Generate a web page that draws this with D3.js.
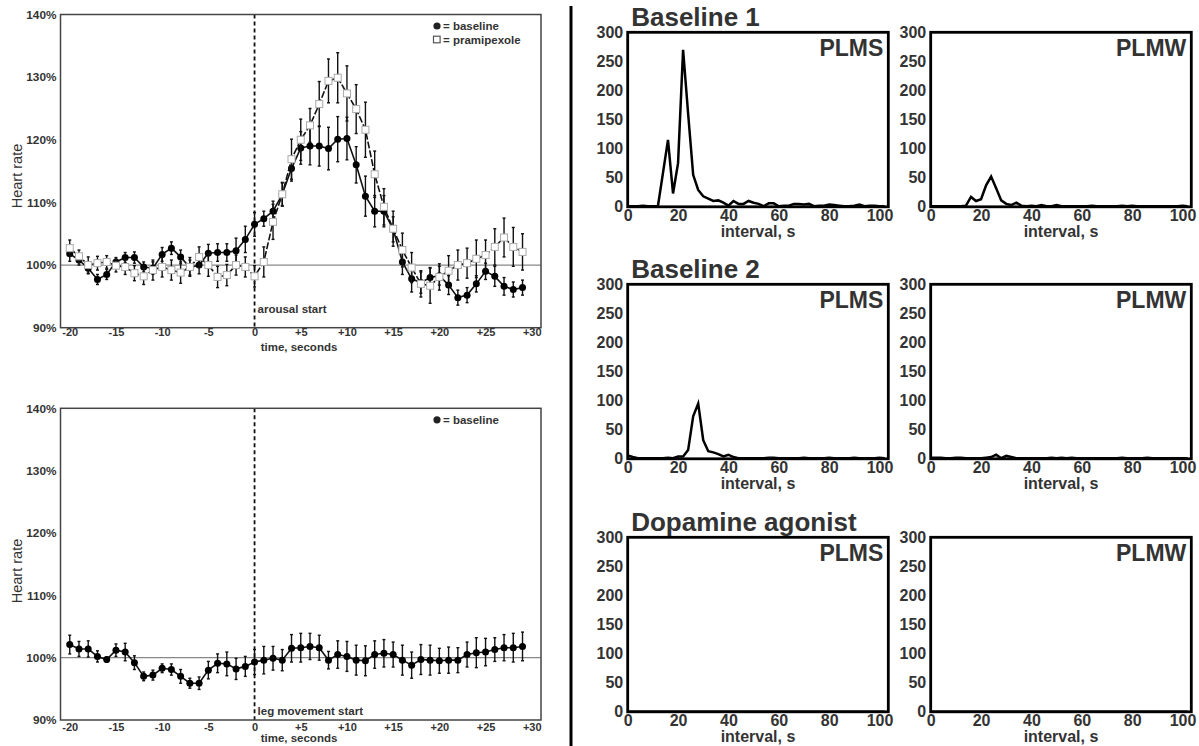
<!DOCTYPE html>
<html>
<head>
<meta charset="utf-8">
<script src="https://cdn.jsdelivr.net/npm/d3@7"></script>
<style>
  body { margin: 0; background: #fff; }
  svg { display: block; }
</style>
</head>
<body>
<svg id="chart" width="1199" height="746"></svg>
<script>
// ---- heart rate around events (percent of resting rate) ----
var seconds = [-20,-19,-18,-17,-16,-15,-14,-13,-12,-11,-10,-9,-8,-7,-6,-5,-4,-3,-2,-1,
  0,1,2,3,4,5,6,7,8,9,10,11,12,13,14,15,16,17,18,19,20,21,22,23,24,25,26,27,28,29];

var arousalBaseline = [101.8,100.8,99.5,97.7,98.5,100.5,101.2,101.2,99.7,99.5,
  101.7,102.7,101.3,99.6,100.0,101.9,102.0,102.0,102.3,104.1,
  106.5,107.4,108.6,111.3,115.4,118.7,119.0,119.0,118.6,120.1,
  120.2,116.0,111.0,108.6,108.6,105.7,100.5,97.8,97.2,98.0,
  98.3,96.8,94.8,95.2,97.0,99.0,98.2,96.6,96.1,96.4];
var arousalBaselineErr = [1.2,0.8,0.9,0.8,0.8,0.7,0.8,0.9,0.8,1.0,
  1.1,1.0,1.1,1.2,1.4,1.4,1.4,1.4,2.0,2.1,
  1.9,1.2,1.6,1.8,2.0,2.6,3.0,3.2,3.4,3.6,
  3.4,2.9,3.2,2.5,2.5,2.0,2.0,2.1,1.7,1.6,
  1.5,1.5,1.2,1.2,1.3,1.3,1.6,1.4,1.2,1.2];

var arousalPramipexole = [102.7,101.4,100.0,100.3,100.5,99.9,99.7,98.7,98.2,99.2,
  99.7,99.2,98.8,99.7,101.3,100.0,98.1,98.4,100.0,99.7,
  98.2,100.5,106.9,111.3,116.9,120.0,122.3,125.7,129.4,129.9,
  127.4,124.9,121.6,114.5,109.3,105.8,102.4,99.6,97.0,96.7,
  98.1,99.1,100.0,100.3,101.0,101.6,102.9,104.4,102.9,102.1];
var arousalPramipexoleErr = [1.3,1.0,1.3,1.1,1.0,1.0,1.2,1.2,1.3,1.6,
  1.6,1.6,1.7,1.5,1.6,1.8,1.7,1.7,1.6,1.6,
  1.7,2.4,2.8,1.9,3.2,3.3,2.7,3.6,3.5,4.0,
  4.4,3.9,4.4,3.7,2.9,2.8,2.7,2.4,2.1,2.8,
  2.1,2.4,2.4,2.4,3.0,2.4,2.9,3.1,3.1,2.9];

var legBaseline = [102.1,101.4,101.4,100.2,99.7,101.2,100.9,99.2,97.0,97.2,
  98.3,98.1,97.0,95.9,95.9,98.0,99.1,99.0,98.2,98.6,
  99.3,99.6,99.9,99.6,101.5,101.6,101.8,101.6,99.6,100.5,
  100.2,99.6,99.5,100.5,100.7,100.5,99.6,98.8,99.7,99.6,
  99.5,99.6,99.6,100.5,100.8,100.9,101.3,101.6,101.6,101.8];
var legBaselineErr = [1.5,1.2,1.3,0.9,0.4,1.0,1.4,1.1,0.7,0.8,
  0.7,0.9,1.1,0.8,1.0,1.4,1.5,1.9,1.7,1.6,
  2.0,2.2,1.9,1.7,2.2,2.3,2.1,2.0,1.4,2.2,
  2.4,2.4,2.4,2.2,2.2,2.0,2.4,2.1,2.4,2.4,
  2.0,2.1,2.0,2.0,2.4,2.2,1.9,2.1,2.3,2.3];

var timeTicks = [-20,-15,-10,-5,0,5,10,15,20,25,30];
var timeTickLabels = ["-20","-15","-10","-5","0","+5","+10","+15","+20","+25","+30"];
var hrTicks = [90,100,110,120,130,140];

// ---- inter-movement interval histograms ----
var intervalBins = [0,2,4,6,8,10,12,14,16,18,20,22,24,26,28,30,32,34,36,38,40,42,44,46,48,50,
  52,54,56,58,60,62,64,66,68,70,72,74,76,78,80,82,84,86,88,90,92,94,96,98,100,102];

var base1PLMS = [1,1,1,2,1,1,1,58,115,23,75,270,160,55,29,18,14,10,11,7,2,10,5,5,10,7,
  5,1,6,6,1,2,2,5,5,4,5,1,2,2,4,3,2,1,1,2,4,1,2,2,1,1];
var base1PLMW = [1,1,1,1,1,1,1,2,17,10,13,37,52,32,11,5,3,7,2,1,2,1,3,1,1,3,
  1,1,1,1,1,1,2,1,1,1,1,1,2,1,2,1,1,1,1,1,1,1,1,1,2,1];
var base2PLMS = [6,3,1,1,1,1,1,1,2,1,4,4,15,73,95,32,13,11,8,4,7,3,1,1,1,1,
  1,1,2,2,1,1,1,1,1,2,1,1,1,1,2,1,1,1,1,2,1,1,1,1,2,1];
var base2PLMW = [2,2,2,1,1,2,2,1,1,1,1,2,3,7,1,5,3,1,1,1,1,1,1,1,2,1,
  2,1,2,1,1,1,1,1,1,1,1,1,2,1,1,1,1,2,1,1,1,1,1,1,1,1];
var agonistPLMS = [0,0,0,0,0,0,0,0,0,0,0,0,0,0,0,0,0,0,0,0,0,0,0,0,0,0,
  0,0,0,0,0,0,0,0,0,0,0,0,0,0,0,0,0,0,0,0,0,0,0,0,0,0];
var agonistPLMW = [0,0,0,0,0,0,0,0,0,0,0,0,0,0,0,0,0,0,0,0,0,0,0,0,0,0,
  0,0,0,0,0,0,0,0,0,0,0,0,0,0,0,0,0,0,0,0,0,0,0,0,0,0];

var intervalTicks = [0,20,40,60,80,100];
var countTicks = [0,50,100,150,200,250,300];
var histRows = ["Baseline 1", "Baseline 2", "Dopamine agonist"];
var histCols = ["PLMS", "PLMW"];
var histValues = [[base1PLMS, base1PLMW], [base2PLMS, base2PLMW], [agonistPLMS, agonistPLMW]];

var FONT = '"Liberation Sans", Arial, Helvetica, sans-serif';
var INK = "#333";
var svg = d3.select("#chart");

function heartPanel(opt) {
  var x = d3.scaleLinear().domain([-21, 31]).range([60.5, 541]);
  var y = d3.scaleLinear().domain([90, 140]).range([opt.bottom, opt.top]);
  var g = svg.append("g");

  g.append("line")
      .attr("x1", x(-21)).attr("x2", x(31))
      .attr("y1", y(100)).attr("y2", y(100))
      .attr("stroke", "#888").attr("stroke-width", 1.2);
  g.append("line")
      .attr("x1", x(0)).attr("x2", x(0))
      .attr("y1", y(140)).attr("y2", y(90))
      .attr("stroke", "#111").attr("stroke-width", 1.8)
      .attr("stroke-dasharray", "4,3");
  g.append("rect")
      .attr("x", x(-21)).attr("y", y(140))
      .attr("width", x(31) - x(-21)).attr("height", y(90) - y(140))
      .attr("fill", "none").attr("stroke", "#444").attr("stroke-width", 1.5);

  var yAxis = g.append("g")
      .attr("transform", "translate(" + x(-21) + ",0)")
      .call(d3.axisLeft(y).tickValues(hrTicks).tickSize(0).tickPadding(4)
        .tickFormat(function (d) { return d + "%"; }));
  yAxis.attr("font-size", 11.8);
  var xAxis = g.append("g")
      .attr("transform", "translate(0," + y(90) + ")")
      .call(d3.axisBottom(x).tickValues(timeTicks).tickSize(0).tickPadding(opt.tickPad)
        .tickFormat(function (d, i) { return timeTickLabels[i]; }));
  xAxis.attr("font-size", 11);
  [yAxis, xAxis].forEach(function (a) {
    a.select(".domain").remove();
    a.attr("font-family", FONT).attr("font-weight", "bold");
    a.selectAll("text").attr("fill", INK);
  });

  g.append("text")
      .attr("transform", "translate(22," + opt.labelY + ") rotate(-90)")
      .attr("text-anchor", "middle")
      .attr("font-family", FONT).attr("font-size", 14.5).attr("fill", INK)
      .text("Heart rate");
  g.append("text")
      .attr("x", 299).attr("y", opt.titleY)
      .attr("text-anchor", "middle")
      .attr("font-family", FONT).attr("font-size", 11.5).attr("font-weight", "bold").attr("fill", INK)
      .text("time, seconds");
  g.append("text")
      .attr("x", x(0) + 3).attr("y", opt.eventY)
      .attr("font-family", FONT).attr("font-size", 11.5).attr("font-weight", "bold").attr("fill", INK)
      .text(opt.event);

  var line = d3.line()
      .x(function (d) { return x(d.t); })
      .y(function (d) { return y(d.v); });

  opt.series.forEach(function (s) {
    var pts = seconds.map(function (t, i) { return { t: t, v: s.values[i], e: s.err[i] }; });
    var eb = g.append("g").attr("stroke", "#111").attr("stroke-width", 1.4);
    eb.selectAll(".bar").data(pts).enter().append("line")
        .attr("x1", function (d) { return x(d.t); }).attr("x2", function (d) { return x(d.t); })
        .attr("y1", function (d) { return y(d.v - d.e); }).attr("y2", function (d) { return y(d.v + d.e); });
    [-1, 1].forEach(function (sign) {
      eb.selectAll(".cap" + sign).data(pts).enter().append("line")
          .attr("x1", function (d) { return x(d.t) - 1.5; }).attr("x2", function (d) { return x(d.t) + 1.5; })
          .attr("y1", function (d) { return y(d.v + sign * d.e); }).attr("y2", function (d) { return y(d.v + sign * d.e); });
    });
    g.append("path").datum(pts)
        .attr("d", line).attr("fill", "none")
        .attr("stroke", "#111").attr("stroke-width", 1.6)
        .attr("stroke-dasharray", s.square ? "7,2" : null);
    if (s.square) {
      g.selectAll(".sq").data(pts).enter().append("rect")
          .attr("x", function (d) { return x(d.t) - 3.5; }).attr("y", function (d) { return y(d.v) - 3.5; })
          .attr("width", 7).attr("height", 7)
          .attr("fill", "#fff").attr("stroke", "#aaa").attr("stroke-width", 1);
    } else {
      g.selectAll(".dot").data(pts).enter().append("circle")
          .attr("cx", function (d) { return x(d.t); }).attr("cy", function (d) { return y(d.v); })
          .attr("r", 3.5).attr("fill", "#000");
    }
  });

  opt.series.forEach(function (s, i) {
    var ly = opt.top + 11.5 + i * 13.5;
    if (s.square) {
      g.append("rect").attr("x", 433.5).attr("y", ly - 3.3).attr("width", 6.6).attr("height", 6.6)
          .attr("fill", "#fff").attr("stroke", "#555").attr("stroke-width", 1.2);
    } else {
      g.append("circle").attr("cx", 437).attr("cy", ly).attr("r", 3.6).attr("fill", "#222");
    }
    g.append("text").attr("x", 443).attr("y", ly + 4)
        .attr("font-family", FONT).attr("font-size", 11.5).attr("font-weight", "bold").attr("fill", INK)
        .text("= " + s.name);
  });
}

heartPanel({
  top: 14.5, bottom: 327.7, tickPad: 0, labelY: 176, titleY: 351, eventY: 313,
  event: "arousal start",
  series: [
    { name: "baseline", values: arousalBaseline, err: arousalBaselineErr, square: false },
    { name: "pramipexole", values: arousalPramipexole, err: arousalPramipexoleErr, square: true }
  ]
});
heartPanel({
  top: 408.3, bottom: 720, tickPad: 2.8, labelY: 571, titleY: 742, eventY: 715,
  event: "leg movement start",
  series: [
    { name: "baseline", values: legBaseline, err: legBaselineErr, square: false }
  ]
});

// separator between the two halves
svg.append("line")
    .attr("x1", 571).attr("x2", 571).attr("y1", 6).attr("y2", 746)
    .attr("stroke", "#000").attr("stroke-width", 3);

var colLeft = [627.7, 930.7];
var rowTop = [32.3, 284.3, 537.3];
var panelW = 260.6, panelH = 174.5;

histRows.forEach(function (rowName, r) {
  svg.append("text")
      .attr("x", colLeft[0] + 3.5).attr("y", rowTop[r] - 6)
      .attr("font-family", FONT).attr("font-size", 26).attr("font-weight", "bold").attr("fill", INK)
      .text(rowName);

  histCols.forEach(function (colName, c) {
    var left = colLeft[c], top = rowTop[r];
    var x = d3.scaleLinear().domain([0, 103.5]).range([left, left + panelW]);
    var y = d3.scaleLinear().domain([0, 300]).range([top + panelH, top]);
    var g = svg.append("g");

    var yAxis = g.append("g")
        .attr("transform", "translate(" + left + ",0)")
        .call(d3.axisLeft(y).tickValues(countTicks).tickSize(0).tickPadding(4.5));
    var xAxis = g.append("g")
        .attr("transform", "translate(0," + (top + panelH) + ")")
        .call(d3.axisBottom(x).tickValues(intervalTicks).tickSize(0).tickPadding(2.6));
    [yAxis, xAxis].forEach(function (a) {
      a.select(".domain").remove();
      a.attr("font-family", FONT).attr("font-size", 16).attr("font-weight", "bold");
      a.selectAll("text").attr("fill", INK);
    });

    g.append("path")
        .datum(histValues[r][c])
        .attr("d", d3.line()
          .x(function (d, i) { return x(intervalBins[i]); })
          .y(function (d) { return y(d); }))
        .attr("fill", "none").attr("stroke", "#000").attr("stroke-width", 2.5);

    g.append("rect")
        .attr("x", left).attr("y", top).attr("width", panelW).attr("height", panelH)
        .attr("fill", "none").attr("stroke", "#000").attr("stroke-width", 2.8);

    g.append("text")
        .attr("x", left + panelW - 5).attr("y", top + 23.5)
        .attr("text-anchor", "end")
        .attr("font-family", FONT).attr("font-size", 23).attr("font-weight", "bold").attr("fill", INK)
        .text(colName);
    g.append("text")
        .attr("x", left + panelW / 2).attr("y", top + panelH + 29.8)
        .attr("text-anchor", "middle")
        .attr("font-family", FONT).attr("font-size", 16).attr("font-weight", "bold").attr("fill", INK)
        .text("interval, s");
  });
});
</script>
</body>
</html>
